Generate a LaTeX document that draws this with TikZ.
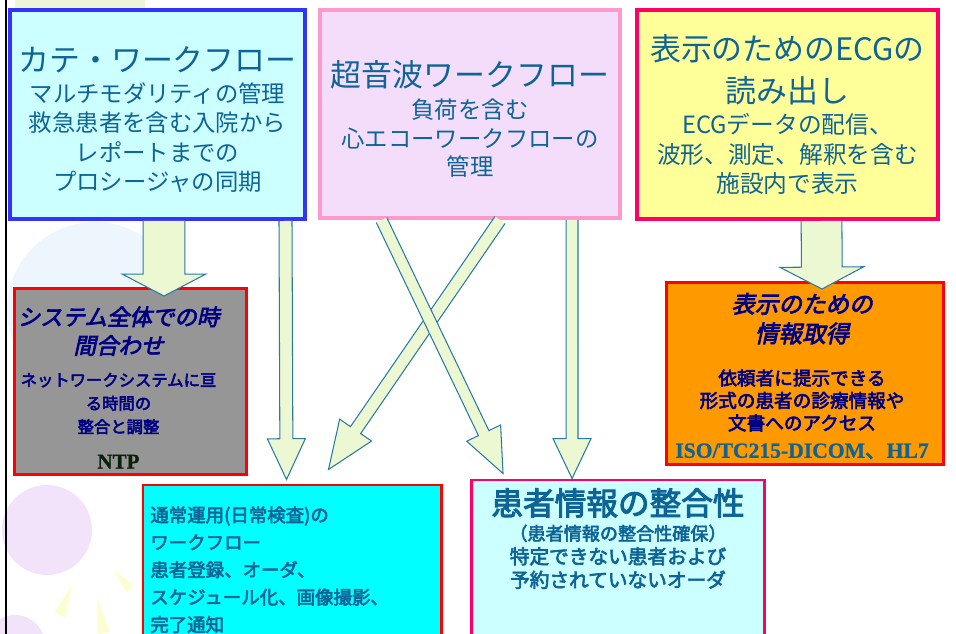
\documentclass[tikz,border=0pt]{standalone}
\usepackage{fontspec}
\newfontfamily\jp{Noto Sans CJK JP}
\newfontfamily\jpb{Noto Sans CJK JP}[FakeBold=3.2]
\newfontfamily\jpbi{Noto Sans CJK JP}[FakeBold=3.2,FakeSlant=0.22]
\newfontfamily\tms{Liberation Serif}[FakeBold=1]
\usetikzlibrary{calc,positioning}

\definecolor{katefill}{HTML}{CCFFFF}
\definecolor{kateline}{HTML}{3333FF}
\definecolor{usfill}{HTML}{F3DDFB}
\definecolor{usline}{HTML}{FF99CC}
\definecolor{ecgfill}{HTML}{FFFF99}
\definecolor{ecgline}{HTML}{FF0066}
\definecolor{ntpfill}{HTML}{969696}
\definecolor{infofill}{HTML}{FF9900}
\definecolor{dailyfill}{HTML}{00FFFF}
\definecolor{txtblue}{HTML}{0E6496}
\definecolor{txtnavy}{HTML}{000080}
\definecolor{txtdark}{HTML}{0A200A}
\definecolor{arrowfill}{HTML}{ECF8D2}
\definecolor{arrowline}{HTML}{2A7AA8}
\definecolor{decoblue}{HTML}{ECF6FC}
\definecolor{decolav}{HTML}{F2E2FA}
\definecolor{decoyel}{HTML}{FDFDD2}
\definecolor{decogreen}{HTML}{EEF6D8}

\newcommand{\bigline}[1]{{\fontsize{17.6}{20}\selectfont #1}}

% block arrow: start, tip, half shaft width, half head width, head length
\newcommand{\blockarrow}[5]{%
  \coordinate (ba) at ($(#2)!#5!(#1)$);
  \draw[fatarrow] ($(#1)!#3!90:(#2)$) -- ($(ba)!#3!90:(#2)$) -- ($(ba)!#4!90:(#2)$) -- (#2)
    -- ($(ba)!#4!-90:(#2)$) -- ($(ba)!#3!-90:(#2)$) -- ($(#1)!#3!-90:(#2)$);}

\begin{document}
\begin{tikzpicture}[x=0.02cm,y=-0.02cm,align=center,
  panel/.style={draw,rectangle,inner sep=0pt,line width=1.7pt},
  toppanel/.style={panel,line width=2.3pt,text=txtblue,font=\jp\fontsize{13.3}{16.8}\selectfont},
  fatarrow/.style={draw=arrowline,fill=arrowfill,line width=0.6pt}]
	\useasboundingbox (0,0) rectangle (956,634);
	\clip (0,0) rectangle (956,634);
	% faint clip art behind everything
	\fill[decogreen] (15,0) rectangle (145,8);
	\fill[decoblue] (95,310) circle (1.76cm);
	\fill[decolav] (47,530) circle (0.9cm);
	\fill[decolav] (15,645) circle (0.6cm);
	\fill[decoyel] (113,570) -- (133,584) -- (127,593) -- cycle;
	\fill[decoyel] (72,585) -- (55,612) -- (65,618) -- cycle;
	\fill[decoyel] (97,597) -- (98,634) -- (110,632) -- cycle;
	\draw[line width=1.7pt] (6,0) -- (6,634);

	% the three workflows
	\draw (157.5,114.5) node[toppanel,draw=kateline,fill=katefill,minimum width=5.9cm,minimum height=4.18cm](kate)
		{\bigline{\rule{0pt}{20pt}カテ・ワークフロー}\\[1pt]マルチモダリティの管理\\救急患者を含む入院から\\レポートまでの\\プロシージャの同期};
	\draw (470,114) node[toppanel,draw=usline,fill=usfill,minimum width=6cm,minimum height=4.16cm,font=\jp\fontsize{13.3}{16.3}\selectfont](us)
		{\bigline{\rule{0pt}{20.5pt}超音波ワークフロー}\\[2pt]負荷を含む\\心エコーワークフローの\\管理};
	\draw (787.5,114.5) node[toppanel,draw=ecgline,fill=ecgfill,minimum width=6.02cm,minimum height=4.18cm,font=\jp\fontsize{13.5}{16.9}\selectfont](ecg)
		{\bigline{表示のためのECGの}\\[7pt]\bigline{読み出し}\\[1pt]ECGデータの配信、\\波形、測定、解釈を含む\\施設内で表示};

	% profiles below
	\draw (130.5,381.5) node[panel,draw=red,fill=ntpfill,minimum width=4.64cm,minimum height=3.72cm](ntp){};
	\node[text=txtnavy,font=\jpb\fontsize{9.3}{13.3}\selectfont] (ntptext) at ($(ntp)+(-12,6)$)
		{{\jpbi\fontsize{12.8}{15.9}\selectfont システム全体での時}\\[3pt]{\jpbi\fontsize{12.8}{15.9}\selectfont 間合わせ}\\[5pt]
		ネットワークシステムに亘\\る時間の\\整合と調整\\[7pt]{\tms\bfseries\color{txtdark}\fontsize{12}{14}\selectfont NTP}};
	\draw (805,373.5) node[panel,draw=red,fill=infofill,minimum width=5.54cm,minimum height=3.64cm](info){};
	\node[text=txtnavy,font=\jpb\fontsize{10.6}{12.8}\selectfont] (infotext) at ($(info)+(-3,2.5)$)
		{{\jpbi\fontsize{13.4}{16.4}\selectfont 表示のための}\\[4pt]{\jpbi\fontsize{13.4}{16.4}\selectfont 情報取得}\\[11.5pt]
		依頼者に提示できる\\形式の患者の診療情報や\\文書へのアクセス\\[3pt]{\color{txtblue}\fontsize{12.3}{14}\selectfont\tms\bfseries ISO/TC215-DICOM}{\color{txtblue}\fontsize{12.3}{14}\selectfont 、}{\color{txtblue}\fontsize{12.3}{14}\selectfont\tms\bfseries HL7}};
	\draw (141.5,483.5) node[panel,draw=red,fill=dailyfill,anchor=north west,minimum width=5.98cm,minimum height=4cm](daily){};
	\node[anchor=north west,inner sep=0pt,align=left,text=txtblue,font=\jpb\fontsize{10.5}{15.6}\selectfont] (dailytext) at (150,506)
		{通常運用(日常検査)の\\ワークフロー\\患者登録、オーダ、\\スケジュール化、画像撮影、\\完了通知};
	\draw (618,478.5) node[panel,draw=ecgline,fill=katefill,anchor=north,minimum width=5.86cm,minimum height=4cm](pid){};
	\node[anchor=north,inner sep=0pt,text=txtblue,font=\jpb\fontsize{11.2}{13.4}\selectfont] (pidtext) at (618,488)
		{{\fontsize{18}{20}\selectfont 患者情報の整合性}\\[1pt]{\fontsize{10.3}{12}\selectfont （患者情報の整合性確保）}\\特定できない患者および\\予約されていないオーダ};

	% block arrows between the panels
	\coordinate (a1s) at ($(kate.south)+(6.5,0)$);
	\coordinate (a1e) at ($(ntp.north)+(33.5,9)$);
	\coordinate (a2s) at ($(kate.south)+(128,0)$);
	\coordinate (a2e) at ($(daily.north west)+(145,-4)$);
	\coordinate (a3s) at ($(us.south)+(30,0)$);
	\coordinate (a3e) at ($(daily.north west)+(187,-14)$);
	\coordinate (a4s) at ($(us.south)+(-88.5,0)$);
	\coordinate (a4e) at ($(pid.north west)+(33,-5)$);
	\coordinate (a5s) at ($(us.south)+(102,0)$);
	\coordinate (a5e) at ($(pid.north west)+(102,0)$);
	\coordinate (a6s) at ($(ecg.south)+(34,0)$);
	\coordinate (a6e) at ($(info.north)+(17,8)$);
	\blockarrow{a1s}{a1e}{11.9pt}{23.8pt}{12.5pt}
	\blockarrow{a2s}{a2e}{3.7pt}{10.8pt}{23.2pt}
	\blockarrow{a3s}{a3e}{3.5pt}{11pt}{27.2pt}
	\blockarrow{a4s}{a4e}{3.3pt}{10.7pt}{25.5pt}
	\blockarrow{a5s}{a5e}{3.4pt}{10.8pt}{22.7pt}
	\blockarrow{a6s}{a6e}{11.6pt}{23.8pt}{12.5pt}
\end{tikzpicture}
\end{document}
